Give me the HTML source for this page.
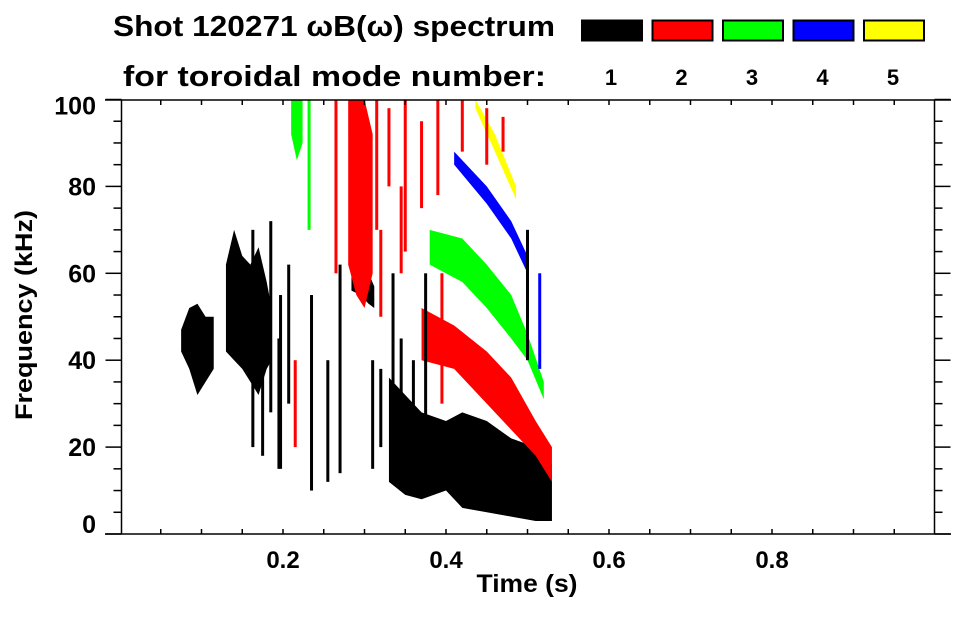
<!DOCTYPE html>
<html><head><meta charset="utf-8"><style>
body{margin:0;background:#fff;}
svg text{font-family:"Liberation Sans",sans-serif;font-weight:bold;fill:#000;}
</style></head><body>
<svg id="chart" width="963" height="615" viewBox="0 0 963 615" xmlns="http://www.w3.org/2000/svg">
<text x="113" y="36" font-size="29" textLength="442" lengthAdjust="spacingAndGlyphs">Shot 120271 ωB(ω) spectrum</text>
<text x="123" y="86" font-size="29" textLength="423" lengthAdjust="spacingAndGlyphs">for toroidal mode number:</text>
<g id="legend"></g>
<g id="marks"></g>
<g id="axes"></g>
<text x="527" y="592" font-size="25" text-anchor="middle" textLength="101" lengthAdjust="spacingAndGlyphs">Time (s)</text>
<text transform="translate(32,315) rotate(-90)" font-size="24" text-anchor="middle" textLength="210" lengthAdjust="spacingAndGlyphs">Frequency (kHz)</text>
</svg>
<script>
const modeLabels=["1","2","3","4","5"];
const modeColors=["#000000","#ff0000","#00ff00","#0000ff","#ffff00"];
const xTicks=[0.2,0.4,0.6,0.8];
const yTicks=[0,20,40,60,80,100];
// bands: times (s), low freq, high freq (kHz), mode
const b1T=[0.075,0.085,0.095,0.105,0.115], b1Lo=[42,38,32,35,38], b1Hi=[47,52,53,50,50];
const b2T=[0.13,0.14,0.15,0.16,0.17,0.18,0.186], b2Lo=[42,40,38,35,32,38,40], b2Hi=[62,70,64,62,66,58,52];
const b3T=[0.284,0.295,0.305,0.312], b3Lo=[56,55,53,52], b3Hi=[62,63,60,57];
const b4T=[0.33,0.35,0.37,0.40,0.42,0.45,0.48,0.51,0.53], b4Lo=[12,9,8,10,6,5,4,3,3], b4Hi=[36,32,28,26,28,26,22,20,16];
const r1T=[0.37,0.41,0.45,0.48,0.51,0.53], r1Lo=[40,38,30,24,18,12], r1Hi=[52,48,42,36,26,20];
const r2T=[0.28,0.29,0.30,0.31], r2Lo=[62,55,52,60], r2Hi=[100,100,100,92];
const g1T=[0.38,0.42,0.45,0.48,0.50,0.52], g1Lo=[62,58,52,45,40,31], g1Hi=[70,68,62,55,46,35];
const g2T=[0.21,0.217,0.224], g2Lo=[92,86,90], g2Hi=[100,100,100];
const u1T=[0.41,0.45,0.48,0.50], u1Lo=[85,76,68,60], u1Hi=[88,80,72,64];
const y1T=[0.436,0.46,0.486], y1Lo=[98,88,77], y1Hi=[100,92,80];
const bandList=[[b1T,b1Lo,b1Hi,0],[b2T,b2Lo,b2Hi,0],[b3T,b3Lo,b3Hi,0],[b4T,b4Lo,b4Hi,0],[r2T,r2Lo,r2Hi,1],[r1T,r1Lo,r1Hi,1],[g2T,g2Lo,g2Hi,2],[g1T,g1Lo,g1Hi,2],[u1T,u1Lo,u1Hi,3],[y1T,y1Lo,y1Hi,4]];
// thin vertical streaks: time, low, high, mode
const sT=[0.163,0.175,0.185,0.197,0.207,0.235,0.255,0.27,0.31,0.32,0.335,0.345,0.36,0.375,0.215,0.395,0.232,0.265,0.195,0.5,0.515,0.315,0.33,0.35,0.37,0.39,0.42,0.45,0.47,0.32,0.345];
const sLo=[20,18,28,15,30,10,12,14,15,20,18,10,12,14,20,30,70,60,15,40,38,70,80,65,75,78,88,85,88,50,60];
const sHi=[70,45,72,55,62,55,40,62,40,38,60,45,40,60,40,60,100,100,45,70,60,100,98,100,95,100,100,98,96,70,80];
const sM=[0,0,0,0,0,0,0,0,0,0,0,0,0,0,1,1,2,1,0,0,3,1,1,1,1,1,1,1,1,1,1];
const X0=120,XS=815,Y0=534,YS=4.345,L=121.5,R=934.5,T=100,B=534,EXL=105,EXR=951;
const xp=t=>X0+t*XS, yp=f=>Y0-f*YS;
const NS="http://www.w3.org/2000/svg";
function mk(tag,attrs,parent){const e=document.createElementNS(NS,tag);for(const k in attrs)e.setAttribute(k,attrs[k]);parent.appendChild(e);return e;}
const marks=document.getElementById('marks');
bandList.forEach((b,i)=>{
  const [ts,lo,hi,m]=b;
  let pts=ts.map((t,j)=>xp(t)+','+yp(hi[j]));
  for(let j=ts.length-1;j>=0;j--)pts.push(xp(ts[j])+','+yp(lo[j]));
  const p=mk('polygon',{points:pts.join(' '),fill:modeColors[m]},marks);
  
  
});
sT.forEach((t,i)=>{
  const r=mk('rect',{x:xp(t)-1.5,y:yp(sHi[i]),width:3,height:yp(sLo[i])-yp(sHi[i]),fill:modeColors[sM[i]]},marks);
  
  
});
const axes=document.getElementById('axes');
const st={stroke:'#000','stroke-width':1.5};
function ln(x1,y1,x2,y2,name){const l=mk('line',Object.assign({x1,y1,x2,y2},st),axes);
  
  }
ln(EXL,T,EXR,T,'top-axis');
ln(EXL,B,EXR,B,'x-axis');
ln(L,T,L,B,'y-axis');
ln(R,T,R,B,'right-axis');
for(let k=1;k<20;k++){const t=k*0.05,x=xp(t);if(x>R)break;
  mk('line',Object.assign({x1:x,x2:x,y1:B,y2:B-5},st),axes);
  mk('line',Object.assign({x1:x,x2:x,y1:T,y2:T+5},st),axes);}
for(let k=0;k<=20;k++){const y=yp(k*5);const len=(k%4==0)?16:8;
  mk('line',Object.assign({x1:L,x2:L-len,y1:y,y2:y},st),axes);
  mk('line',Object.assign({x1:R,x2:R+len,y1:y,y2:y},st),axes);}
xTicks.forEach(t=>{const e=mk('text',{x:xp(t),y:568,'font-size':24,'text-anchor':'middle'},axes);e.textContent=t.toFixed(1);
  
  });
yTicks.forEach(f=>{const e=mk('text',{x:96,y:yp(f)+(f==100?15:(f==0?-1:9)),'font-size':25,'text-anchor':'end'},axes);e.textContent=f;
  
  });
const leg=document.getElementById('legend');
modeLabels.forEach((lab,i)=>{const x=582+i*70.5;
  const r=mk('rect',{x:x,y:20.5,width:60,height:20,fill:modeColors[i],stroke:'#000','stroke-width':2},leg);
  
  
  const t=mk('text',{x:x+29,y:85,'font-size':22,'text-anchor':'middle'},leg);t.textContent=lab;
  
  });
</script>
</body></html>
